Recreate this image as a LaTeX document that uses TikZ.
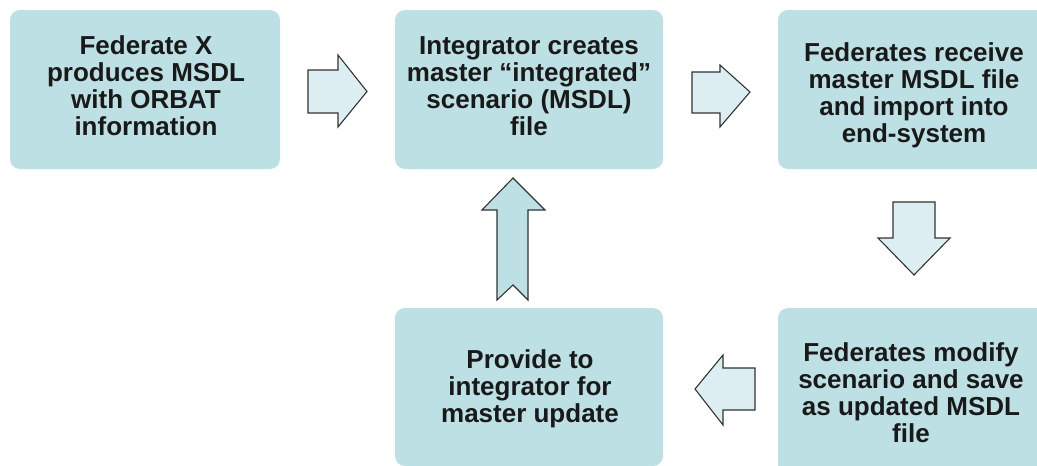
\documentclass[tikz,border=0pt]{standalone}
\usepackage{fontspec}
\setmainfont{Liberation Sans}
\definecolor{boxfill}{HTML}{BCE0E4}
\definecolor{arrfill}{HTML}{DCEEF1}
\definecolor{arrline}{HTML}{333333}
\begin{document}
\begin{tikzpicture}[x=1pt,y=-1pt,
  stepbox/.style={fill=boxfill,draw=none,rounded corners=10pt},
  steptext/.style={align=center,inner sep=0pt,font=\fontsize{26}{27}\selectfont\bfseries,text=black!90},
  blockarrow/.style={draw=arrline,line width=1.1pt,fill=arrfill,line join=miter}]
\useasboundingbox (0,0) rectangle (1037,466);
\clip (0,0) rectangle (1037,466);
% boxes
\fill[stepbox] (10,10) rectangle (280,169);
\fill[stepbox] (395,10) rectangle (663,169);
\fill[stepbox] (778,10) rectangle (1046,169);
\fill[stepbox] (395,308) rectangle (663,466);
\fill[stepbox] (778,308) rectangle (1046,480);
% texts
\node[steptext] (t1) at (146,86) {Federate X\\produces MSDL\\with ORBAT\\information};
\node[steptext] (t2) at (529,86) {Integrator creates\\master “integrated”\\scenario (MSDL)\\file};
\node[steptext] (t3) at (914,95) {Federates receive\\master MSDL file\\and import into\\end-system};
\node[steptext] (t4) at (530,389) {Provide to\\integrator for\\master update};
\node[steptext] (t5) at (911,393) {Federates modify\\scenario and save\\as updated MSDL\\file};
% block arrows
\draw[blockarrow] (308,70) -- (338,70) -- (338,55) -- (367,91.5) -- (338,127) -- (338,113) -- (308,113) -- cycle;
\draw[blockarrow] (692,72) -- (720,72) -- (720,65) -- (750,92) -- (720,127) -- (720,113) -- (692,113) -- cycle;
\draw[blockarrow] (893,202) -- (935,202) -- (935,238) -- (950,238) -- (914,275) -- (878,238) -- (893,238) -- cycle;
\draw[blockarrow] (755,368) -- (723,368) -- (723,355) -- (695,389) -- (723,425) -- (723,410) -- (755,410) -- cycle;
\draw[blockarrow,fill=boxfill] (497,300) -- (497,210) -- (482,210) -- (513,178) -- (545,210) -- (528,210) -- (528,300) -- (513,285) -- cycle;
\end{tikzpicture}
\end{document}
